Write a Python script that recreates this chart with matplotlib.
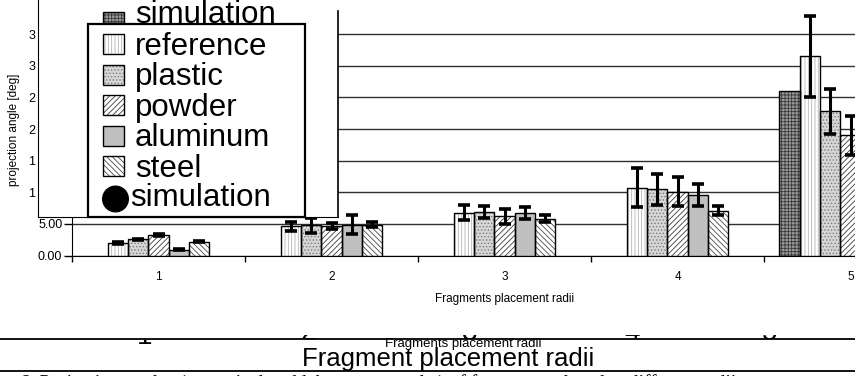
import matplotlib
matplotlib.use('Agg')
import matplotlib.pyplot as plt
import numpy as np
from matplotlib.patches import Rectangle, Circle
from matplotlib.transforms import Bbox

plt.rcParams['font.family'] = 'Liberation Sans'
plt.rcParams['hatch.linewidth'] = 0.6

# data (projection angle in deg)
radii = [1, 2, 3, 4, 5]
radii_labels = ['1', '2', '3', '4', '5']
series = ['reference', 'plastic', 'powder', 'aluminum', 'steel']

reference = [1.98, 4.65, 6.8, 10.7, 31.5]
plastic = [2.56, 4.75, 6.9, 10.5, 22.8]
powder = [3.24, 4.7, 6.2, 10.1, 19.0]
aluminum = [0.92, 4.9, 6.7, 9.6, 17.5]
steel = [2.19, 4.9, 5.85, 7.1, 15.0]

reference_err = [0.15, 0.7, 1.24, 3.1, 6.4]
plastic_err = [0.12, 1.2, 0.9, 2.45, 3.6]
powder_err = [0.12, 0.5, 1.2, 2.27, 3.1]
aluminum_err = [0.1, 1.55, 0.92, 1.7, 2.5]
steel_err = [0.12, 0.45, 0.55, 0.77, 2.0]

simulation = [26.1]      # only given for radius 5
simulation_x = [5]

values = {'reference': reference, 'plastic': plastic, 'powder': powder,
          'aluminum': aluminum, 'steel': steel}
errors = {'reference': reference_err, 'plastic': plastic_err, 'powder': powder_err,
          'aluminum': aluminum_err, 'steel': steel_err}

# fill / hatch look of each series
styles = {
    'reference': dict(fc='white', hatch='|||||', hc='#b4b4b4'),
    'plastic': dict(fc='#d6d6d6', hatch='.....', hc='#7a7a7a'),
    'powder': dict(fc='white', hatch='//////', hc='#3a3a3a'),
    'aluminum': dict(fc='#c0c0c0', hatch=None, hc='#c0c0c0'),
    'steel': dict(fc='white', hatch='\\\\\\\\\\\\', hc='#4a4a4a'),
    'simulation': dict(fc='#9a9a9a', hatch='+++++', hc='#3a3a3a'),
}

W, H = 855, 376
fig = plt.figure(figsize=(W / 100, H / 100), dpi=100)

px_per_unit = 6.32
ytop = 255.5 / px_per_unit

# main chart (runs off the right edge, as in the picture)
ax = fig.add_axes([72 / W, 1 - 255.5 / H, 865 / W, 255.5 / H], zorder=1)
ax.set_xlim(0.5, 5.5)
ax.set_ylim(0, ytop)

bw = 0.1175
def draw_bars(xs, ys, st):
    ax.bar(xs, ys, width=bw, color=st['fc'], edgecolor=st['hc'], hatch=st['hatch'],
           linewidth=0, zorder=3)
    ax.bar(xs, ys, width=bw, fill=False, edgecolor='black', linewidth=1.0, zorder=4)

x = np.array(radii, dtype=float)
for i, name in enumerate(series):
    xs = x + (i - 2) * bw
    draw_bars(xs, values[name], styles[name])
    ax.errorbar(xs, values[name], yerr=errors[name], fmt='none', ecolor='black',
                elinewidth=2.2, capsize=4.5, capthick=2.6, zorder=5)
draw_bars(np.array(simulation_x) - 3 * bw, simulation, styles['simulation'])

ax.set_yticks([0, 5, 10, 15, 20, 25, 30, 35])
ax.set_yticklabels(['0.00', '5.00', '', '', '', '', '', ''], fontsize=9)
ax.grid(axis='y', color='#303030', linewidth=1.0, zorder=0)
ax.set_axisbelow(True)
ax.tick_params(axis='y', length=6, width=1, pad=1)
ax.set_xticks(radii)
ax.set_xticklabels(radii_labels, fontsize=8.5)
ax.set_xticks(np.arange(0.5, 6, 1), minor=True)
ax.tick_params(axis='x', which='major', length=0, pad=11)
ax.tick_params(axis='x', which='minor', length=4, width=1)
ax.set_xlabel('Fragments placement radii', fontsize=8.5)
ax.xaxis.set_label_coords(0.5, -0.145)
for s in ['top', 'right']:
    ax.spines[s].set_visible(False)

# second, cropped chart pasted over the upper left
ov = fig.add_axes([38 / W, 1 - 216.5 / H, 300 / W, 216.5 / H], zorder=2)
ov.set_facecolor('white')
ov.set_xlim(0, 1)
ov.set_ylim((255.5 - 216.5) / px_per_unit, ytop)
ov.set_xticks([])
ov.set_yticks([10, 15, 20, 25, 30, 35])
ov.set_yticklabels(['1', '1', '2', '2', '3', '3'], fontsize=9)
ov.tick_params(axis='y', length=0, pad=2)
ov.set_ylabel('projection angle [deg]', fontsize=8.5)
ov.yaxis.set_label_coords(-0.06, 0.4)
for s in ['top', 'right']:
    ov.spines[s].set_visible(False)

# pixel overlay for legend and the page fragments below
pa = fig.add_axes([0, 0, 1, 1], zorder=3)
pa.set_xlim(0, W)
pa.set_ylim(H, 0)
pa.axis('off')
pa.patch.set_alpha(0)

pa.plot([338, 338], [11, 216.5], color='black', lw=1.2)

def swatch(x0, y0, w, h, st):
    pa.add_patch(Rectangle((x0, y0), w, h, facecolor=st['fc'], edgecolor=st['hc'],
                           hatch=st['hatch'], linewidth=0))
    pa.add_patch(Rectangle((x0, y0), w, h, fill=False, edgecolor='black', linewidth=1.0))

# stray legend entry above the box
swatch(103, 12, 21, 11, styles['simulation'])
pa.text(135, 23, 'simulation', fontsize=22.5, va='baseline', ha='left')

pa.add_patch(Rectangle((88, 24), 217, 192.5, facecolor='white', edgecolor='black',
                       linewidth=1.6))
for i, name in enumerate(series):
    cy = 44 + 30.5 * i
    swatch(103, cy - 10, 21, 20, styles[name])
    pa.text(135, cy + 11, name, fontsize=22.5, va='baseline', ha='left')
pa.add_patch(Circle((115.5, 199), 12.8, color='black'))
pa.text(130, 206, 'simulation', fontsize=22.5, va='baseline', ha='left')

# page fragments under the chart
pa.plot([0, W], [339, 339], color='black', lw=1.3, zorder=4)
pa.plot([0, W], [371, 371], color='black', lw=1.3, zorder=4)

def clipped_text(x0, y0, s, y_from, y_to, **kw):
    t = pa.text(x0, y0, s, **kw)
    p1 = pa.transData.transform((0, y_to))
    p2 = pa.transData.transform((W, y_from))
    t.set_clip_box(Bbox.from_extents(p1[0], p1[1], p2[0], p2[1]))
    t.set_clip_on(True)
    return t

frag_x = [308, 470, 632, 770]
frag_s = ['2', '3', '4', '5']
for fx_, fs in zip(frag_x, frag_s):
    clipped_text(fx_, 340.5, fs, 335, 339, fontsize=20, ha='center', va='baseline', zorder=1)
clipped_text(145, 344, '1', 339.5, 344, fontsize=20, ha='center', va='baseline', zorder=1)

pa.text(463, 347, 'Fragments placement radii', fontsize=9.5, ha='center', va='baseline',
        zorder=1)
pa.text(448, 366, 'Fragment placement radii', fontsize=18.5, ha='center', va='baseline',
        zorder=1)
clipped_text(20, 388, '6. Projection angles (numerical and laboratory results) of fragments '
             'placed at different radii', 371.5, 376,
             fontsize=14, family='Liberation Serif', ha='left', va='baseline')

fig.savefig('out.png', dpi=100)
